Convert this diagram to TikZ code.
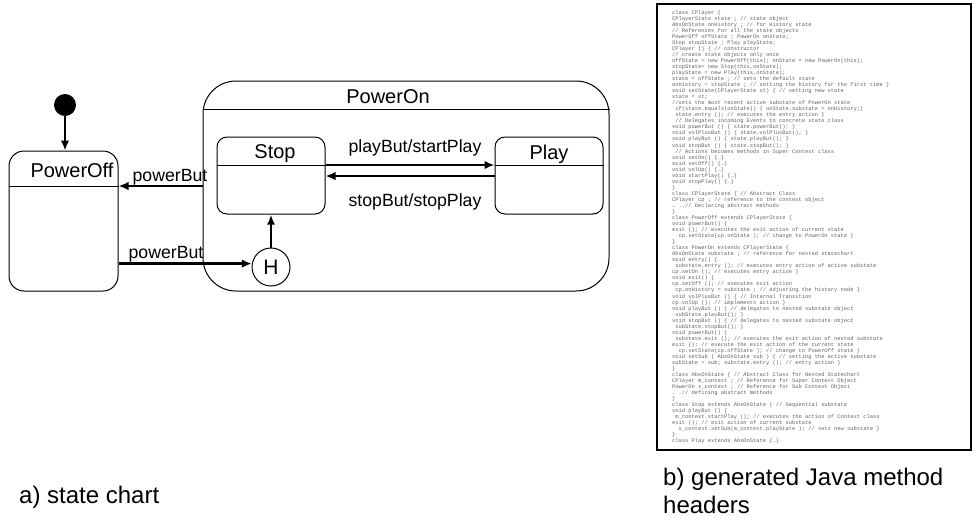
\documentclass[tikz,border=0pt]{standalone}
\usepackage{fontspec}
\setmainfont{Liberation Sans}
\newfontfamily\codefont{Liberation Mono}
\usetikzlibrary{arrows.meta}
\newcommand\ind{\hspace*{3.24pt}}
\begin{document}
\begin{tikzpicture}[x=1pt, y=-1pt,
  statebox/.style={draw, line width=1pt, inner sep=0pt},
  sepline/.style={line width=1pt},
  namelabel/.style={anchor=base, inner sep=0pt, font=\fontsize{20}{20}\selectfont},
  translabel/.style={anchor=base, inner sep=0pt, font=\fontsize{17.7}{17.7}\selectfont},
  trans/.style={line width=2.6pt, -{Latex[length=10pt,width=8.5pt]}},
  caption/.style={anchor=north west, inner sep=0pt, font=\fontsize{24}{28}\selectfont, align=left}]
\useasboundingbox (0,0) rectangle (973,531);

% ---- state chart ----
\node[circle, fill, minimum size=22pt, inner sep=0pt] (init) at (65,105) {};

\node[statebox, rounded corners=15pt, minimum width=109pt, minimum height=140pt] (PowerOff) at (63.5,221) {};
\node[namelabel] (offname) at (72,177) {PowerOff};
\coordinate (offsep) at (0,186);
\draw[sepline] (PowerOff.west |- offsep) -- (PowerOff.east |- offsep);

\node[statebox, rounded corners=33pt, minimum width=406pt, minimum height=210pt] (PowerOn) at (406,186) {};
\node[namelabel] (onname) at (388,103) {PowerOn};
\coordinate (onsep) at (0,109);
\draw[sepline] (PowerOn.west |- onsep) -- (PowerOn.east |- onsep);

\node[statebox, rounded corners=10pt, minimum width=108pt, minimum height=77pt] (Stop) at (271,175.5) {};
\node[namelabel] (stopname) at (275,158) {Stop};
\node[statebox, rounded corners=10pt, minimum width=108pt, minimum height=77pt] (Play) at (549,175.5) {};
\node[namelabel] (playname) at (549,159) {Play};
\coordinate (subsep) at (0,165);
\draw[sepline] (Stop.west |- subsep) -- (Stop.east |- subsep);
\draw[sepline] (Play.west |- subsep) -- (Play.east |- subsep);

\node[circle, draw, line width=1pt, minimum size=38pt, inner sep=0pt,
      font=\fontsize{21}{21}\selectfont] (H) at (271,267) {H};

% transitions
\draw[trans] (init) -- (PowerOff.north -| init);
\coordinate (stopback) at (0,176);
\draw[trans] (PowerOn.west |- offsep) -- (PowerOff.east |- offsep);
\draw[trans] (PowerOff.east |- H.170) -- (H.170);
\draw[trans] (Stop.east |- subsep) -- (Play.west |- subsep);
\draw[trans] (Play.west |- stopback) -- (Stop.east |- stopback);
\draw[line width=2pt, -{Latex[length=10pt,width=8pt]}] (H.north) -- (Stop.south -| H.north);

\node[translabel] (lblpoweroff) at (170,181) {powerBut};
\node[translabel] (lblpoweron) at (166,258) {powerBut};
\node[translabel] (lblplay) at (415,152) {playBut/startPlay};
\node[translabel] (lblstop) at (415,206) {stopBut/stopPlay};

\node[caption] (capa) at (19,486) {a) state chart};

% ---- generated code ----
\draw[line width=2pt] (657,4) rectangle (971,450);
\node[anchor=north west, inner sep=0pt, align=left, text=black!62,
      font={\codefont\fontsize{5.4}{6.04}\selectfont}] (code) at (672,10) {%
class CPlayer \{\\
CPlayerState state ; // state object\\
AbsOnState onHistory ; // for History state\\
// References for all the state objects\\
PowerOff offState ; PowerOn onState;\\
Stop stopState ; Play playState;\\
CPlayer () \{ // constructor\\
// create state objects only once\\
offState = new PowerOff(this); onState = new PowerOn(this);\\
stopState= new Stop(this,onState);\\
playState = new Play(this,onState);\\
state = offState ; // sets the default state\\
onHistory = stopState ; // setting the history for the first time \}\\
void setState(CPlayerState st) \{ // setting new state\\
state = st;\\
//sets the most recent active substate of PowerOn state\\
\ind if(state.equals(onState)) \{ onState.substate = onHistory;\}\\
\ind state.entry (); // executes the entry action \}\\
\ind // Delegates incoming Events to concrete state class\\
void powerBut () \{ state.powerBut(); \}\\
void volPlusBut () \{ state.volPlusBut(); \}\\
void playBut () \{ state.playBut(); \}\\
void stopBut () \{ state.stopBut(); \}\\
\ind // Actions becomes methods in Super Context class\\
void setOn() \{…\}\\
void setOff() \{…\}\\
void volUp() \{…\}\\
void startPlay() \{…\}\\
void stopPlay() \{…\}\\
\}\\
class CPlayerState \{ // Abstract Class\\
CPlayer cp ; // reference to the context object\\
… ..// Declaring abstract methods\\
\}\\
class PowerOff extends CPlayerState \{\\
void powerBut() \{\\
exit (); // executes the exit action of current state\\
\ind\ind cp.setState(cp.onState ); // change to PowerOn state \}\\
\}\\
class PowerOn extends CPlayerState \{\\
AbsOnState substate ; // reference for nested statechart\\
void entry() \{\\
\ind substate.entry (); // executes entry action of active substate\\
cp.setOn (); // executes entry action \}\\
void exit() \{\\
cp.setOff (); // executes exit action\\
\ind cp.onHistory = substate ; // adjusting the history node \}\\
void volPlusBut () \{ // Internal Transition\\
cp.volUp (); // implements action \}\\
void playBut () \{ // delegates to nested substate object\\
\ind subState.playBut(); \}\\
void stopBut () \{ // delegates to nested substate object\\
\ind subState.stopBut(); \}\\
void powerBut() \{\\
\ind substate.exit (); // executes the exit action of nested substate\\
exit (); // execute the exit action of the current state\\
\ind\ind cp.setState(cp.offState ); // change to PowerOff state \}\\
void setSub ( AbsOnState sub ) \{ // setting the active substate\\
subState = sub; substate.entry (); // entry action \}\\
\}\\
class AbsOnState \{ // Abstract Class for Nested Statechart\\
CPlayer m\_context ; // Reference for Super Context Object\\
PowerOn s\_context ; // Reference for Sub Context Object\\
… .// defining abstract methods\\
\}\\
class Stop extends AbsOnState \{ // Sequential substate\\
void playBut () \{\\
\ind m\_context.startPlay (); // executes the action of Context class\\
exit (); // exit action of current substate\\
\ind\ind s\_context.setSub(m\_context.playState ); // sets new substate \}\\
\}\\
class Play extends AbsOnState \{…\}};

\node[caption] (capb) at (663,468) {b) generated Java method\\headers};
\end{tikzpicture}
\end{document}
